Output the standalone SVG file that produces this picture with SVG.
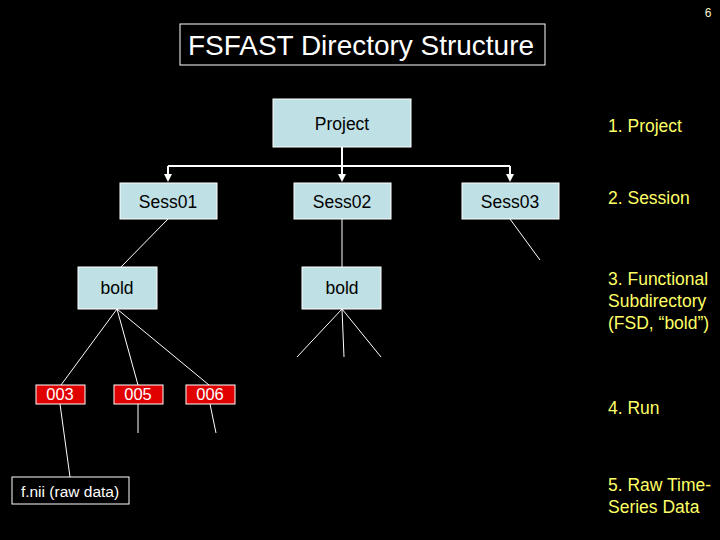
<svg xmlns="http://www.w3.org/2000/svg" width="720" height="540" viewBox="0 0 720 540">
<defs>
<style>
text{font-family:"Liberation Sans",Arial,sans-serif}
.box{fill:#bfe0e4;stroke:#ffffff;stroke-width:1}
.lbl{font-size:17.5px;fill:#000;text-anchor:middle}
.run{fill:#e00000;stroke:#ffffff;stroke-width:1}
.runt{font-size:16.5px;fill:#fff;text-anchor:middle}
.note{font-size:17.5px;fill:#ffff66}
.ln{stroke:#fff;stroke-width:1;fill:none}
.arr{stroke:#fff;stroke-width:2;fill:none}
</style>
<marker id="ah" markerWidth="8" markerHeight="8" refX="4" refY="4" orient="auto" markerUnits="userSpaceOnUse">
<path d="M0,0 L8,4 L0,8 z" fill="#fff"/>
</marker>
</defs>
<rect x="0" y="0" width="720" height="540" fill="#000"/>
<text x="708" y="17" font-size="12" fill="#f4f0c8" text-anchor="middle">6</text>
<g id="title">
<rect x="180" y="24" width="365" height="41" fill="#000" stroke="#fff" stroke-width="1"/>
<text x="188" y="55" font-size="28" fill="#fff" textLength="346" lengthAdjust="spacingAndGlyphs">FSFAST Directory Structure</text>
</g>
<g id="connectors">
<polyline class="arr" points="342,147 342,166"/>
<polyline class="arr" points="168,166 510,166"/>
<line class="arr" x1="168" y1="166" x2="168" y2="178" marker-end="url(#ah)"/>
<line class="arr" x1="342" y1="166" x2="342" y2="178" marker-end="url(#ah)"/>
<line class="arr" x1="510" y1="166" x2="510" y2="178" marker-end="url(#ah)"/>
<line class="ln" x1="168" y1="219" x2="121" y2="267"/>
<line class="ln" x1="342" y1="219" x2="342" y2="267"/>
<line class="ln" x1="510" y1="219" x2="540" y2="260"/>
<line class="ln" x1="117" y1="309" x2="61" y2="385"/>
<line class="ln" x1="117" y1="309" x2="138" y2="385"/>
<line class="ln" x1="117" y1="309" x2="209" y2="385"/>
<line class="ln" x1="342" y1="309" x2="297" y2="357"/>
<line class="ln" x1="342" y1="309" x2="344" y2="357"/>
<line class="ln" x1="342" y1="309" x2="381" y2="357"/>
<line class="ln" x1="60" y1="404" x2="70" y2="477"/>
<line class="ln" x1="138" y1="404" x2="138" y2="433"/>
<line class="ln" x1="210" y1="404" x2="216" y2="433"/>
</g>
<g id="project">
<rect class="box" x="273" y="99" width="138" height="48"/>
<text class="lbl" x="342" y="130">Project</text>
</g>
<g id="sess01">
<rect class="box" x="120" y="183" width="97" height="36"/>
<text class="lbl" x="168" y="208">Sess01</text>
</g>
<g id="sess02">
<rect class="box" x="294" y="183" width="97" height="36"/>
<text class="lbl" x="342" y="208">Sess02</text>
</g>
<g id="sess03">
<rect class="box" x="462" y="183" width="97" height="36"/>
<text class="lbl" x="510" y="208">Sess03</text>
</g>
<g id="bold1">
<rect class="box" x="78" y="267" width="79" height="42"/>
<text class="lbl" x="117" y="294">bold</text>
</g>
<g id="bold2">
<rect class="box" x="302" y="267" width="79" height="42"/>
<text class="lbl" x="342" y="294">bold</text>
</g>
<g id="run003">
<rect class="run" x="36" y="385" width="49" height="19"/>
<text class="runt" x="60" y="400">003</text>
</g>
<g id="run005">
<rect class="run" x="114" y="385" width="49" height="19"/>
<text class="runt" x="138" y="400">005</text>
</g>
<g id="run006">
<rect class="run" x="186" y="385" width="49" height="19"/>
<text class="runt" x="210" y="400">006</text>
</g>
<g id="fnii">
<rect x="12" y="477" width="117" height="27" fill="#000" stroke="#fff" stroke-width="1"/>
<text x="70" y="497" font-size="15.5" fill="#fff" text-anchor="middle">f.nii (raw data)</text>
</g>
<g id="legend">
<text class="note" x="608" y="132">1. Project</text>
<text class="note" x="608" y="204">2. Session</text>
<text class="note" x="608" y="285">3. Functional</text>
<text class="note" x="608" y="307">Subdirectory</text>
<text class="note" x="608" y="329">(FSD, “bold”)</text>
<text class="note" x="608" y="414">4. Run</text>
<text class="note" x="608" y="491">5. Raw Time-</text>
<text class="note" x="608" y="513">Series Data</text>
</g>
</svg>
